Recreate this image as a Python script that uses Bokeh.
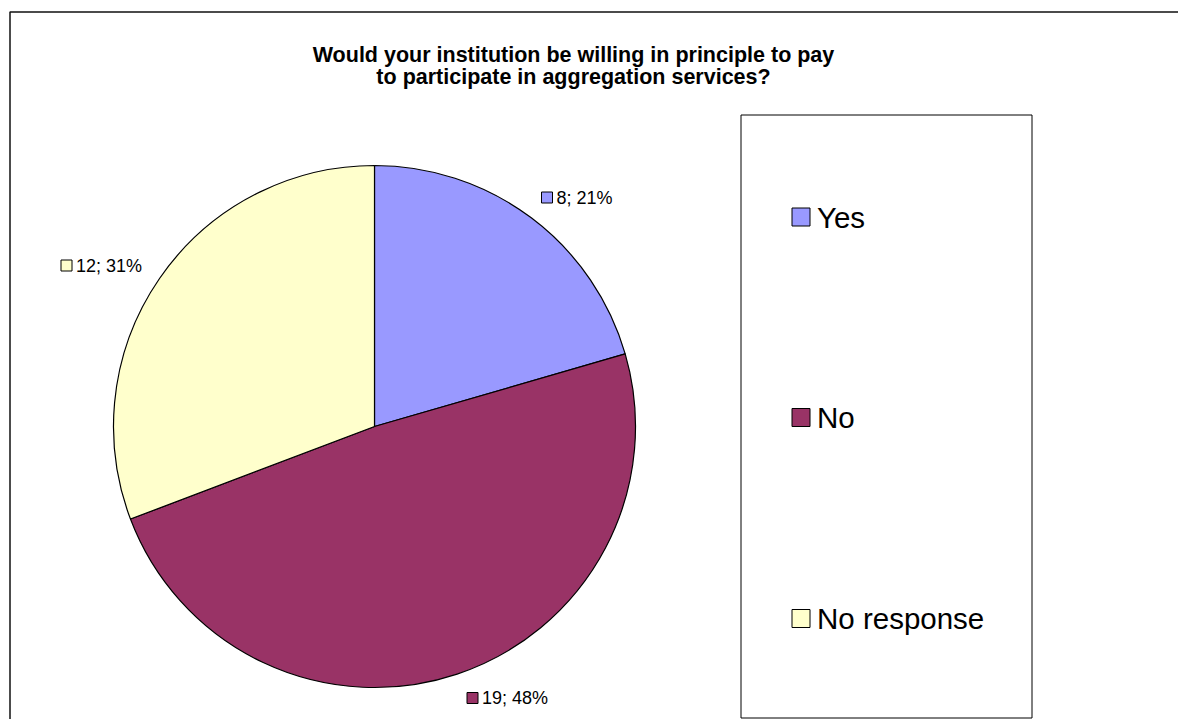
import math
from bokeh.plotting import figure
from bokeh.models import Range1d, ColumnDataSource
from bokeh.embed import file_html
from bokeh.resources import INLINE
from bokeh.core.properties import value

# ---- data ----
title_lines = ["Would your institution be willing in principle to pay",
               "to participate in aggregation services?"]
categories = ["Yes", "No", "No response"]
counts = [8, 19, 12]
percent_labels = ["21%", "48%", "31%"]
colors = ["#9999FF", "#993366", "#FFFFCC"]

# ---- layout (picture pixel coordinates) ----
W, H = 1178, 719
def X(px):
    return px
def Y(py):
    return H - py

pie_cx, pie_cy, pie_r = 374, 426, 261
label_sq_pos = [(546.5, 197.0), (472.0, 697.5), (66.0, 265.0)]
label_sq = 11
legend_x = 800.5
legend_ys = [216.5, 417.0, 618.0]
legend_sq = 18
FONT = "Liberation Sans"

p = figure(width=W, height=H, x_range=Range1d(0, W), y_range=Range1d(0, H),
           output_backend="svg", toolbar_location=None, min_border=0,
           x_axis_type=None, y_axis_type=None)
p.grid.visible = False
p.outline_line_color = None
p.background_fill_color = "white"
p.border_fill_color = "white"

# outer chart border (cropped on right / bottom)
p.line(x=[X(9.5), X(9.5), W], y=[0, Y(11.5), Y(11.5)], line_color="#111111", line_width=1.5)

# title
p.text(x=[X(573)] * 2, y=[Y(54), Y(76)], text=title_lines,
       text_align="center", text_baseline="middle",
       text_font=value(FONT), text_font_style="bold", text_font_size="21.5px",
       text_color="black")

# pie
total = sum(counts)
starts, ends = [], []
cum = 0
for c in counts:
    starts.append(math.pi / 2 - 2 * math.pi * cum / total)
    cum += c
    ends.append(math.pi / 2 - 2 * math.pi * cum / total)
src = ColumnDataSource(dict(start=starts, end=ends, color=colors, cat=categories))
p.wedge(x=X(pie_cx), y=Y(pie_cy), radius=pie_r, start_angle="start", end_angle="end",
        direction="clock", fill_color="color", line_color="black", line_width=1.2,
        source=src)

# data labels
lab_text = [f"{c}; {pc}" for c, pc in zip(counts, percent_labels)]
sq_x = [X(a) for a, b in label_sq_pos]
sq_y = [Y(b) for a, b in label_sq_pos]
p.rect(x=sq_x, y=sq_y, width=label_sq, height=label_sq, fill_color=colors,
       line_color="black", line_width=1)
p.text(x=[x + label_sq / 2 + 4 for x in sq_x], y=sq_y, text=lab_text,
       text_align="left", text_baseline="middle",
       text_font=value(FONT), text_font_size="18px", text_color="black")

# legend box
p.quad(left=X(740.5), right=X(1031.5), top=Y(114.5), bottom=Y(717.5),
       fill_color="white", line_color="black", line_width=1)
lx = [X(legend_x)] * 3
ly = [Y(v) for v in legend_ys]
p.rect(x=lx, y=ly, width=legend_sq, height=legend_sq, fill_color=colors,
       line_color="black", line_width=1)
p.text(x=[x + legend_sq / 2 + 7 for x in lx], y=ly, text=categories,
       text_align="left", text_baseline="middle",
       text_font=value(FONT), text_font_size="29.5px", text_color="black")

open("out.html", "w").write(file_html(p, INLINE))
